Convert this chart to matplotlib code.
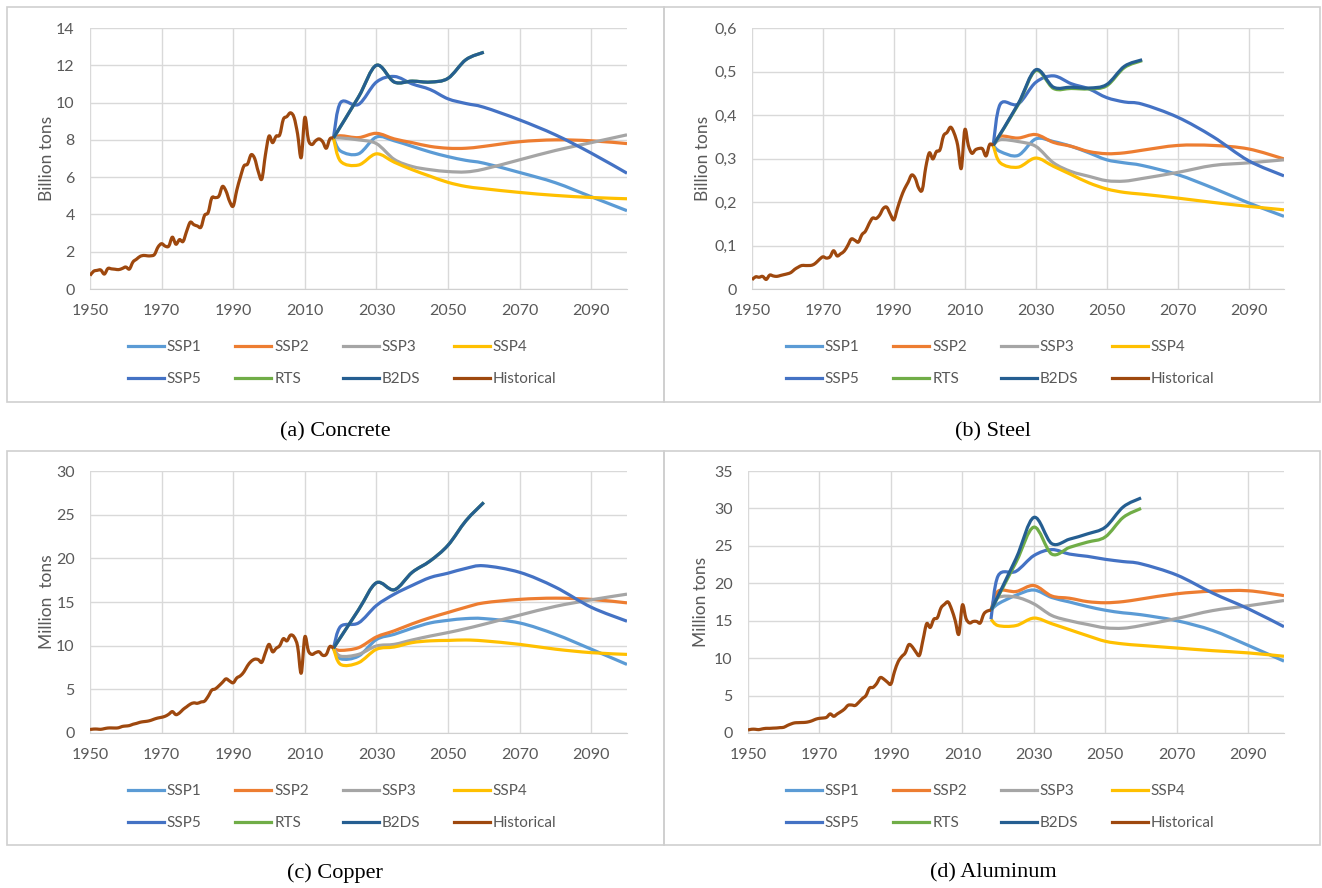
import numpy as np
import matplotlib.pyplot as plt
from matplotlib.path import Path
from matplotlib.patches import PathPatch, Rectangle
from matplotlib.lines import Line2D

plt.rcParams['font.family'] = ['Lato', 'DejaVu Sans']

W, H = 1322, 888

hist_years = list(range(1950, 2019))
ssp_years = [2018, 2020, 2025, 2030, 2035, 2040, 2045, 2050, 2055, 2060, 2070, 2080, 2090, 2100]
iea_years = [2018, 2025, 2030, 2035, 2040, 2045, 2050, 2055, 2060]

names = ['SSP1', 'SSP2', 'SSP3', 'SSP4', 'SSP5', 'RTS', 'B2DS', 'Historical']
colors = ['#5B9BD5', '#ED7D31', '#A5A5A5', '#FFC000', '#4472C4', '#70AD47', '#255E91', '#9E480E']

# (a) concrete, billion tons
concrete_hist = [0.72, 0.95, 1.00, 1.02, 0.80, 1.10, 1.08, 1.06, 1.04, 1.10,
                 1.18, 1.07, 1.45, 1.60, 1.75, 1.80, 1.78, 1.78, 1.85, 2.25,
                 2.43, 2.30, 2.30, 2.78, 2.40, 2.65, 2.55, 3.10, 3.58, 3.45,
                 3.38, 3.32, 3.95, 4.10, 4.88, 4.90, 4.98, 5.50, 5.25, 4.70,
                 4.45, 5.30, 6.00, 6.60, 6.70, 7.20, 7.00, 6.30, 5.90, 7.20,
                 8.20, 7.85, 8.20, 8.27, 9.10, 9.25, 9.45, 9.20, 8.30, 7.05,
                 9.20, 8.00, 7.75, 7.95, 8.05, 7.90, 7.55, 8.05, 8.10]
concrete_ssp1 = [8.10, 7.40, 7.25, 8.15, 7.95, 7.65, 7.35, 7.10, 6.90, 6.75, 6.25, 5.70, 4.95, 4.20]
concrete_ssp2 = [8.10, 8.22, 8.12, 8.35, 8.05, 7.85, 7.65, 7.55, 7.55, 7.65, 7.90, 8.00, 7.95, 7.80]
concrete_ssp3 = [8.10, 8.10, 8.00, 7.80, 6.95, 6.57, 6.40, 6.30, 6.28, 6.43, 6.93, 7.43, 7.85, 8.27]
concrete_ssp4 = [8.10, 6.85, 6.65, 7.25, 6.80, 6.40, 6.05, 5.72, 5.50, 5.38, 5.18, 5.02, 4.91, 4.84]
concrete_ssp5 = [8.10, 10.0, 9.90, 11.1, 11.4, 11.0, 10.7, 10.2, 9.95, 9.75, 9.07, 8.27, 7.29, 6.21]
concrete_rts = [8.10, 10.3, 12.0, 11.1, 11.15, 11.1, 11.3, 12.3, 12.7]
concrete_b2ds = [8.10, 10.3, 12.0, 11.1, 11.15, 11.1, 11.3, 12.3, 12.7]

# (b) steel, billion tons
steel_hist = [0.021, 0.028, 0.027, 0.029, 0.022, 0.032, 0.030, 0.029, 0.031, 0.033,
              0.035, 0.038, 0.045, 0.050, 0.054, 0.054, 0.054, 0.055, 0.060, 0.068,
              0.074, 0.071, 0.074, 0.088, 0.076, 0.081, 0.087, 0.100, 0.115, 0.112,
              0.108, 0.125, 0.133, 0.150, 0.163, 0.162, 0.170, 0.185, 0.188, 0.172,
              0.159, 0.185, 0.210, 0.230, 0.245, 0.262, 0.255, 0.232, 0.228, 0.280,
              0.313, 0.299, 0.316, 0.320, 0.352, 0.360, 0.372, 0.358, 0.330, 0.277,
              0.366, 0.330, 0.312, 0.320, 0.323, 0.322, 0.306, 0.332, 0.330]
steel_ssp1 = [0.330, 0.316, 0.307, 0.345, 0.339, 0.328, 0.313, 0.297, 0.290, 0.284, 0.263, 0.232, 0.198, 0.167]
steel_ssp2 = [0.330, 0.351, 0.347, 0.355, 0.337, 0.328, 0.316, 0.311, 0.313, 0.319, 0.330, 0.330, 0.322, 0.299]
steel_ssp3 = [0.330, 0.343, 0.339, 0.328, 0.290, 0.270, 0.259, 0.249, 0.248, 0.254, 0.268, 0.284, 0.290, 0.297]
steel_ssp4 = [0.330, 0.290, 0.280, 0.301, 0.282, 0.263, 0.244, 0.230, 0.222, 0.218, 0.209, 0.199, 0.190, 0.182]
steel_ssp5 = [0.330, 0.425, 0.425, 0.475, 0.490, 0.472, 0.460, 0.440, 0.430, 0.425, 0.395, 0.350, 0.295, 0.260]
steel_rts = [0.330, 0.423, 0.502, 0.461, 0.461, 0.460, 0.467, 0.509, 0.525]
steel_b2ds = [0.330, 0.425, 0.504, 0.464, 0.464, 0.462, 0.470, 0.512, 0.527]

# (c) copper, million tons
copper_hist = [0.40, 0.45, 0.45, 0.42, 0.50, 0.57, 0.58, 0.57, 0.60, 0.75,
               0.80, 0.85, 1.00, 1.10, 1.23, 1.30, 1.35, 1.45, 1.60, 1.72,
               1.80, 1.92, 2.15, 2.45, 2.10, 2.30, 2.70, 3.00, 3.30, 3.45,
               3.40, 3.55, 3.65, 4.20, 4.90, 5.05, 5.40, 5.80, 6.20, 5.95,
               5.75, 6.30, 6.55, 7.00, 7.70, 8.20, 8.45, 8.40, 8.10, 9.20,
               10.15, 9.30, 9.70, 10.00, 10.80, 10.55, 11.20, 11.00, 9.90, 6.85,
               11.00, 9.40, 9.00, 9.20, 9.30, 8.90, 9.00, 9.90, 9.70]
copper_ssp1 = [9.7, 8.5, 8.8, 10.7, 11.3, 12.0, 12.6, 12.9, 13.1, 13.1, 12.6, 11.3, 9.6, 7.85]
copper_ssp2 = [9.7, 9.46, 9.77, 11.0, 11.7, 12.5, 13.2, 13.8, 14.4, 14.9, 15.3, 15.44, 15.3, 14.9]
copper_ssp3 = [9.7, 8.8, 9.0, 9.96, 10.15, 10.65, 11.1, 11.5, 11.95, 12.45, 13.5, 14.5, 15.25, 15.9]
copper_ssp4 = [9.7, 7.85, 8.05, 9.58, 9.85, 10.35, 10.55, 10.6, 10.65, 10.55, 10.15, 9.6, 9.2, 9.0]
copper_ssp5 = [9.7, 12.2, 12.6, 14.6, 15.9, 16.9, 17.8, 18.3, 18.85, 19.15, 18.4, 16.7, 14.4, 12.8]
copper_rts = [9.7, 14.1, 17.2, 16.4, 18.4, 19.7, 21.5, 24.3, 26.4]
copper_b2ds = [9.7, 14.1, 17.2, 16.4, 18.4, 19.7, 21.5, 24.3, 26.4]

# (d) aluminum, million tons
aluminum_hist = [0.40, 0.50, 0.50, 0.45, 0.55, 0.62, 0.62, 0.65, 0.67, 0.72,
                 0.76, 1.00, 1.20, 1.35, 1.38, 1.40, 1.42, 1.50, 1.65, 1.85,
                 1.96, 2.00, 2.10, 2.55, 2.23, 2.55, 2.85, 3.20, 3.70, 3.74,
                 3.68, 4.10, 4.60, 5.00, 6.00, 6.10, 6.60, 7.40, 7.20, 6.80,
                 6.55, 8.20, 9.50, 10.20, 10.70, 11.80, 11.50, 10.80, 10.40, 12.50,
                 14.60, 14.10, 15.20, 15.40, 16.70, 17.20, 17.50, 16.50, 15.00, 13.20,
                 17.10, 15.30, 14.70, 14.90, 14.90, 14.70, 15.90, 16.30, 16.40]
aluminum_ssp1 = [16.4, 17.25, 18.4, 19.1, 18.1, 17.5, 16.9, 16.4, 16.05, 15.8, 15.0, 13.7, 11.7, 9.6]
aluminum_ssp2 = [16.4, 18.95, 18.9, 19.7, 18.3, 18.0, 17.55, 17.4, 17.55, 17.9, 18.6, 18.95, 19.0, 18.35]
aluminum_ssp3 = [16.4, 18.1, 18.15, 17.25, 15.7, 15.0, 14.5, 14.05, 14.0, 14.35, 15.3, 16.35, 17.0, 17.7]
aluminum_ssp4 = [15.2, 14.35, 14.35, 15.35, 14.6, 13.8, 13.0, 12.25, 11.9, 11.7, 11.35, 11.0, 10.7, 10.25]
aluminum_ssp5 = [15.2, 21.0, 21.6, 23.7, 24.5, 23.9, 23.6, 23.2, 22.9, 22.6, 21.1, 18.7, 16.6, 14.2]
aluminum_rts = [16.4, 22.8, 27.5, 23.9, 24.8, 25.5, 26.2, 28.8, 30.0]
aluminum_b2ds = [16.4, 23.3, 28.8, 25.3, 25.9, 26.6, 27.5, 30.2, 31.4]

x_ticks = list(range(1950, 2100, 20))
concrete_yticks = [0, 2, 4, 6, 8, 10, 12, 14]
steel_yticks = [0, 0.1, 0.2, 0.3, 0.4, 0.5, 0.6]
steel_yticklabels = ['0', '0,1', '0,2', '0,3', '0,4', '0,5', '0,6']
copper_yticks = [0, 5, 10, 15, 20, 25, 30]
aluminum_yticks = [0, 5, 10, 15, 20, 25, 30, 35]


def smooth_path(xs, ys):
    # Excel-style smoothed line: cubic Bezier through every data point
    xs = np.asarray(xs, float)
    ys = np.asarray(ys, float)
    n = len(xs)
    verts = [(xs[0], ys[0])]
    codes = [Path.MOVETO]
    for i in range(n - 1):
        i0 = max(i - 1, 0)
        i3 = min(i + 2, n - 1)
        c1 = (xs[i] + (xs[i + 1] - xs[i0]) / 6, ys[i] + (ys[i + 1] - ys[i0]) / 6)
        c2 = (xs[i + 1] - (xs[i3] - xs[i]) / 6, ys[i + 1] - (ys[i3] - ys[i]) / 6)
        verts += [c1, c2, (xs[i + 1], ys[i + 1])]
        codes += [Path.CURVE4] * 3
    return Path(verts, codes)


def fig_rect(left, top, right, bottom):
    return [left / W, 1 - bottom / H, (right - left) / W, (bottom - top) / H]


fig = plt.figure(figsize=(W / 100, H / 100), dpi=100)

panels = [
    dict(ax=(90, 28, 627, 289), frame=(7, 7, 664, 402), legend=(128, 340), label_x=-0.066,
         caption='(a) Concrete', cap=(335, 432), ylabel='Billion tons', ymax=14,
         yticks=concrete_yticks, yticklabels=None,
         data=[concrete_ssp1, concrete_ssp2, concrete_ssp3, concrete_ssp4, concrete_ssp5,
               concrete_rts, concrete_b2ds, concrete_hist]),
    dict(ax=(752, 28, 1284, 289), frame=(664, 7, 1320, 402), legend=(786, 340), label_x=-0.078,
         caption='(b) Steel', cap=(993, 432), ylabel='Billion tons', ymax=0.6,
         yticks=steel_yticks, yticklabels=steel_yticklabels,
         data=[steel_ssp1, steel_ssp2, steel_ssp3, steel_ssp4, steel_ssp5,
               steel_rts, steel_b2ds, steel_hist]),
    dict(ax=(90, 471, 627, 733), frame=(7, 451, 664, 845), legend=(128, 784), label_x=-0.066,
         caption='(c) Copper', cap=(335, 873), ylabel='Million  tons', ymax=30,
         yticks=copper_yticks, yticklabels=None,
         data=[copper_ssp1, copper_ssp2, copper_ssp3, copper_ssp4, copper_ssp5,
               copper_rts, copper_b2ds, copper_hist]),
    dict(ax=(748, 471, 1284, 733), frame=(664, 451, 1320, 845), legend=(786, 784), label_x=-0.072,
         caption='(d) Aluminum', cap=(993, 873), ylabel='Million tons', ymax=35,
         yticks=aluminum_yticks, yticklabels=None,
         data=[aluminum_ssp1, aluminum_ssp2, aluminum_ssp3, aluminum_ssp4, aluminum_ssp5,
               aluminum_rts, aluminum_b2ds, aluminum_hist]),
]

for p in panels:
    l, t, r, b = p['frame']
    fig.add_artist(Rectangle((l / W, 1 - b / H), (r - l) / W, (b - t) / H,
                             transform=fig.transFigure, fill=False,
                             edgecolor='#CFCFCF', lw=1.2))

    ax = fig.add_axes(fig_rect(*p['ax']))
    for i, values in enumerate(p['data']):
        if i < 5:
            xs = ssp_years
        elif i < 7:
            xs = iea_years
        else:
            xs = hist_years
        ax.add_patch(PathPatch(smooth_path(xs, values), facecolor='none',
                               edgecolor=colors[i], lw=2.3, joinstyle='round'))

    ax.set_xlim(1950, 2100)
    ax.set_ylim(0, p['ymax'])
    ax.set_xticks(x_ticks)
    ax.set_yticks(p['yticks'])
    if p['yticklabels']:
        ax.set_yticklabels(p['yticklabels'])
    ax.grid(True, color='#D9D9D9', lw=1)
    ax.set_axisbelow(True)
    for side in ['top', 'right', 'left']:
        ax.spines[side].set_visible(False)
    ax.spines['bottom'].set_color('#D0D0D0')
    ax.tick_params(length=0, pad=11, labelsize=11.5, labelcolor='#595959')
    ax.set_ylabel(p['ylabel'], fontsize=12.5, color='#595959')
    ax.yaxis.set_label_coords(p['label_x'], 0.5)

    handles = [Line2D([], [], color=c, lw=2.3) for c in colors]
    order = [0, 4, 1, 5, 2, 6, 3, 7]
    lx, ly = p['legend']
    ax.legend([handles[k] for k in order], [names[k] for k in order], ncol=4,
              loc='upper left', bbox_to_anchor=(lx / W, 1 - ly / H),
              bbox_transform=fig.transFigure, frameon=False, fontsize=11,
              labelcolor='#595959', handlelength=2.35, handletextpad=0.2,
              columnspacing=2.2, labelspacing=1.2, borderpad=0, borderaxespad=0)

    cx, cy = p['cap']
    fig.text(cx / W, 1 - cy / H, p['caption'], ha='center', va='center',
             family='Liberation Serif', fontsize=16, color='black')

plt.savefig('out.png', dpi=100)
